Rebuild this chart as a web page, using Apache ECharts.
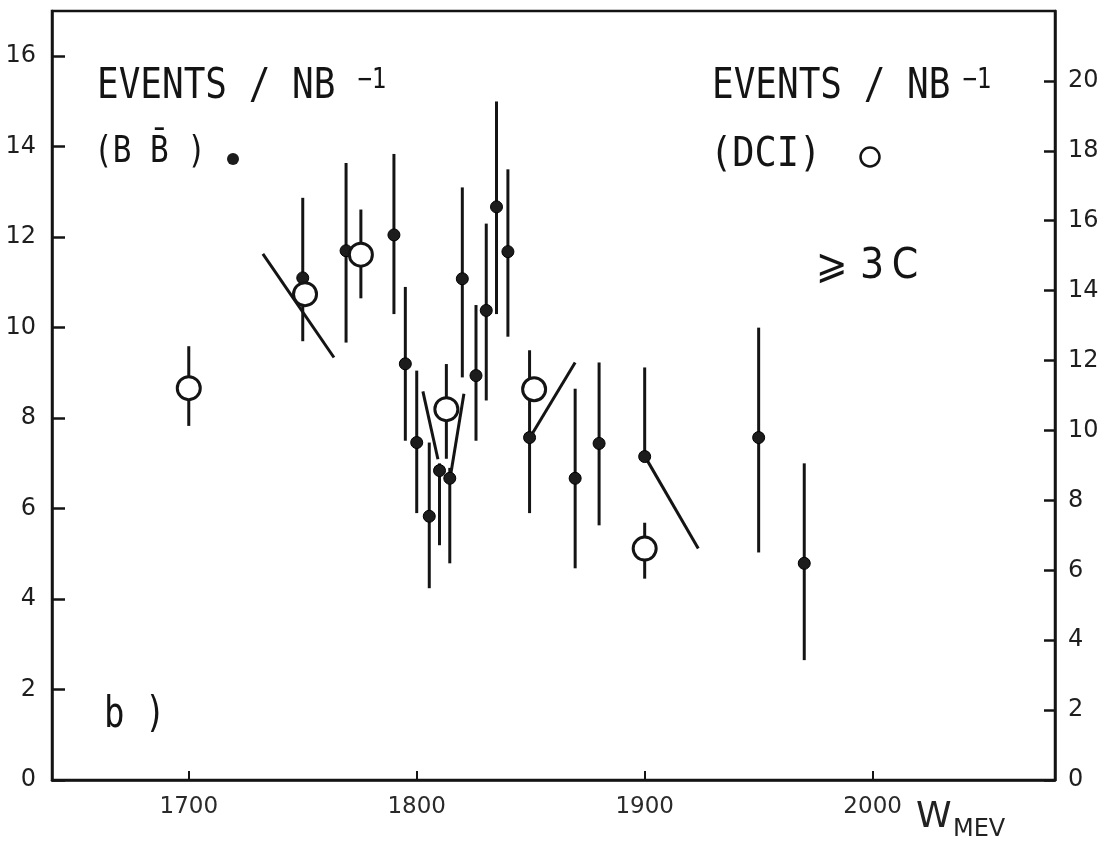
<!DOCTYPE html>
<html lang="en">
<head>
<meta charset="UTF-8">
<title>Events / NB-1 vs W (MeV)</title>
<script src="https://cdn.jsdelivr.net/npm/echarts@6/dist/echarts.min.js"></script>
<style>
  html, body { margin: 0; padding: 0; background: #fff; overflow: hidden; }
  #chart { width: 1111px; height: 847px; }
</style>
</head>
<body>
<div id="chart"></div>
<script>
// BB̄ events (filled dots, left axis)
var bbEnergy = [1750, 1769, 1790, 1795, 1800, 1805.5, 1810, 1814.5, 1820, 1826, 1830.5, 1835, 1840, 1849.5, 1869.5, 1880, 1900, 1950, 1970];
var bbValue  = [11.1, 11.7, 12.05, 9.2, 7.46, 5.83, 6.84, 6.67, 11.08, 8.94, 10.38, 12.67, 11.68, 7.57, 6.67, 7.44, 7.15, 7.57, 4.79];
var bbLow    = [9.7, 9.67, 10.3, 7.5, 5.9, 4.24, 5.19, 4.79, 8.9, 7.5, 8.39, 10.3, 9.8, 5.9, 4.68, 5.63, 7.15, 5.03, 2.65];
var bbHigh   = [12.87, 13.64, 13.84, 10.9, 9.05, 7.46, 7.0, 6.9, 13.1, 10.5, 12.3, 15.0, 13.5, 9.5, 8.65, 9.23, 9.12, 10.0, 7.0];

// DCI events (open circles, right axis)
var dciEnergy = [1700, 1751, 1775.5, 1813, 1851.5, 1900];
var dciValue  = [11.21, 13.9, 15.03, 10.61, 11.18, 6.62];
var dciLow    = [10.13, 13.9, 13.78, 9.19, 11.18, 5.76];
var dciHigh   = [12.41, 13.9, 16.32, 11.9, 11.18, 7.36];

// hand drawn slanted strokes (energy, value on left axis)
var strokeFrom = [[1732.5, 11.63], [1802.7, 8.59], [1820.7, 8.54], [1851, 7.68], [1900.6, 7.11]];
var strokeTo   = [[1763.7, 9.34], [1809.3, 7.09], [1815, 6.78], [1869.5, 9.23], [1923.5, 5.12]];

var xTicks = [1700, 1800, 1900, 2000];

var ink = '#141414';
var font = 'DejaVu Sans';
var mono = 'DejaVu Sans Mono';

function zip3(a, b, c) {
  return a.map(function (v, i) { return [v, b[i], c[i]]; });
}

function errorBar(params, api) {
  var x = api.value(0);
  var lo = api.coord([x, api.value(1)]);
  var hi = api.coord([x, api.value(2)]);
  return {
    type: 'line',
    shape: { x1: lo[0], y1: lo[1], x2: hi[0], y2: hi[1] },
    style: { stroke: ink, lineWidth: 3 }
  };
}

function stroke(params, api) {
  var a = api.coord([api.value(0), api.value(1)]);
  var b = api.coord([api.value(2), api.value(3)]);
  return {
    type: 'line',
    shape: { x1: a[0], y1: a[1], x2: b[0], y2: b[1] },
    style: { stroke: ink, lineWidth: 3 }
  };
}

var chart = echarts.init(document.getElementById('chart'));

chart.setOption({
  animation: false,
  backgroundColor: '#fff',
  grid: {
    left: 52, right: 56, top: 11, bottom: 67,
    show: true, borderColor: ink, borderWidth: 2.5
  },
  xAxis: {
    type: 'value', min: 1640, max: 2080,
    splitLine: { show: false },
    axisLine: { lineStyle: { color: ink, width: 2.5 } },
    axisTick: { inside: true, length: 9, lineStyle: { color: ink, width: 2 } },
    axisLabel: {
      margin: 16, color: '#2a2a2a', fontFamily: font, fontSize: 23,
      showMinLabel: false, showMaxLabel: false,
      formatter: function (v) { return xTicks.indexOf(v) >= 0 ? String(v) : ''; }
    }
  },
  yAxis: [{
    type: 'value', min: 0, max: 17, interval: 2, position: 'left',
    splitLine: { show: false },
    axisLine: { show: true, lineStyle: { color: ink, width: 2.5 } },
    axisTick: { show: true, inside: true, length: 13, lineStyle: { color: ink, width: 2.5 } },
    axisLabel: {
      margin: 16, color: '#1e1e1e', fontFamily: font, fontSize: 24,
      showMaxLabel: false
    }
  }, {
    type: 'value', min: 0, max: 22, interval: 2, position: 'right',
    splitLine: { show: false },
    axisLine: { show: true, lineStyle: { color: ink, width: 2.5 } },
    axisTick: { show: true, inside: true, length: 11, lineStyle: { color: ink, width: 2.5 } },
    axisLabel: {
      margin: 13, color: '#1e1e1e', fontFamily: font, fontSize: 24,
      showMaxLabel: false
    }
  }],
  series: [{
    type: 'custom', name: 'BB err', yAxisIndex: 0, z: 1,
    renderItem: errorBar, encode: { x: 0, y: [1, 2] },
    data: zip3(bbEnergy, bbLow, bbHigh)
  }, {
    type: 'custom', name: 'DCI err', yAxisIndex: 1, z: 1,
    renderItem: errorBar, encode: { x: 0, y: [1, 2] },
    data: zip3(dciEnergy, dciLow, dciHigh)
  }, {
    type: 'custom', name: 'strokes', yAxisIndex: 0, z: 2,
    renderItem: stroke, encode: { x: [0, 2], y: [1, 3] },
    data: strokeFrom.map(function (p, i) { return [p[0], p[1], strokeTo[i][0], strokeTo[i][1]]; })
  }, {
    type: 'scatter', name: 'BB', yAxisIndex: 0, z: 3,
    symbol: 'circle', symbolSize: 12,
    itemStyle: { color: '#1c1c1c', borderColor: '#000', borderWidth: 1, opacity: 1 },
    data: bbEnergy.map(function (e, i) { return [e, bbValue[i]]; })
  }, {
    type: 'scatter', name: 'DCI', yAxisIndex: 1, z: 4,
    symbol: 'circle', symbolSize: 23,
    itemStyle: { color: '#fff', borderColor: ink, borderWidth: 3, opacity: 1 },
    data: dciEnergy.map(function (e, i) { return [e, dciValue[i]]; })
  }],
  graphic: [{
    type: 'text', x: 97, y: 66, scaleY: 1.18,
    style: {
      text: '{a|EVENTS / NB}{s|\u22121}', fill: ink,
      rich: {
        a: { fontFamily: mono, fontSize: 36, verticalAlign: 'bottom', fill: ink },
        s: { fontFamily: mono, fontSize: 24, verticalAlign: 'top', fill: ink, padding: [0, 0, 0, 22] }
      }
    }
  }, {
    type: 'text', x: 94, y: 134, scaleY: 1.18,
    style: { text: '(B B\u0304 )', fontFamily: mono, fontSize: 31, fill: ink }
  }, {
    type: 'circle', shape: { cx: 233, cy: 159, r: 6 },
    style: { fill: '#1c1c1c' }
  }, {
    type: 'text', x: 712, y: 66, scaleY: 1.18,
    style: {
      text: '{a|EVENTS / NB}{s|\u22121}', fill: ink,
      rich: {
        a: { fontFamily: mono, fontSize: 36, verticalAlign: 'bottom', fill: ink },
        s: { fontFamily: mono, fontSize: 24, verticalAlign: 'top', fill: ink, padding: [0, 0, 0, 12] }
      }
    }
  }, {
    type: 'text', x: 710, y: 135, scaleY: 1.12,
    style: { text: '(DCI)', fontFamily: mono, fontSize: 37, fill: ink }
  }, {
    type: 'circle', shape: { cx: 870, cy: 157, r: 9.5 },
    style: { fill: 'none', stroke: ink, lineWidth: 2.5 }
  }, {
    type: 'text', x: 816, y: 246, scaleY: 1.1,
    style: { text: '\u2A7E 3\u2009C', fontFamily: font, fontSize: 38, fill: ink }
  }, {
    type: 'text', x: 104, y: 695, scaleY: 1.25,
    style: { text: 'b )', fontFamily: mono, fontSize: 34, fill: ink }
  }, {
    type: 'text', x: 916, y: 800,
    style: { text: 'W', fontFamily: font, fontSize: 36, fill: '#222' }
  }, {
    type: 'text', x: 953, y: 818,
    style: { text: 'MEV', fontFamily: font, fontSize: 24, fill: '#222' }
  }]
});
</script>
</body>
</html>
